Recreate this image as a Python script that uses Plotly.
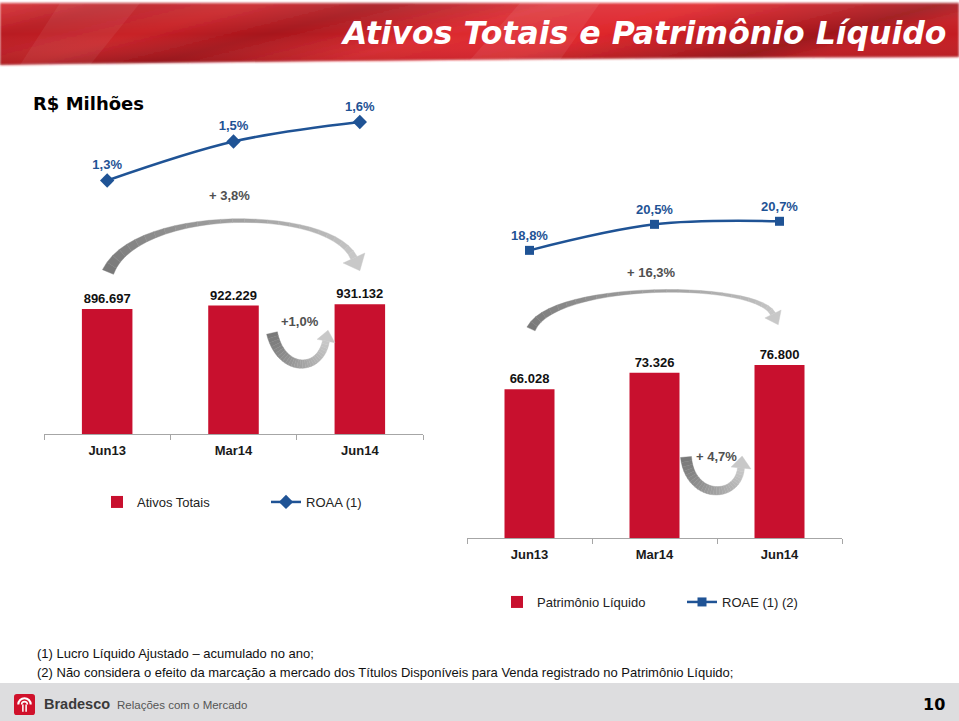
import base64
import plotly.graph_objects as go

W, H = 959, 721

# ---------------- data ----------------
categories = ["Jun13", "Mar14", "Jun14"]
ativos_totais = [896697, 922229, 931132]          # R$ milhões
roaa = [1.3, 1.5, 1.6]                            # %
patrimonio_liquido = [66028, 73326, 76800]        # R$ milhões
roae = [18.8, 20.5, 20.7]                         # %
var_ativos = ["+ 3,8%", "+1,0%"]                  # 12m, trimestre
var_pl = ["+ 16,3%", "+ 4,7%"]


def px(x):
    return x / W


def py(y):
    return 1 - y / H


def fmt_mil(v):
    return f"{v:,}".replace(",", ".")


def fmt_pct(v):
    return f"{v:.1f}%".replace(".", ",")


RED = "#C8102E"
BLUE = "#1F5395"
FONT = "Liberation Sans, Arial, sans-serif"

fig = go.Figure()

# ---- left chart: Ativos Totais + ROAA ----
fig.add_trace(go.Bar(
    x=categories, y=ativos_totais, name="Ativos Totais",
    marker=dict(color=RED, line=dict(width=0)), width=0.4,
    text=[fmt_mil(v) for v in ativos_totais], textposition="outside",
    textfont=dict(family=FONT, size=13, color="#111", weight="bold"),
    cliponaxis=False, xaxis="x", yaxis="y", legend="legend", hoverinfo="skip",
))
fig.add_trace(go.Scatter(
    x=categories, y=roaa, name="ROAA (1)", mode="lines+markers+text",
    line=dict(color=BLUE, width=2.5, shape="spline"),
    marker=dict(symbol="diamond", size=11, color=BLUE),
    text=[fmt_pct(v) for v in roaa], textposition="top center",
    textfont=dict(family=FONT, size=13, color=BLUE, weight="bold"),
    cliponaxis=False, xaxis="x", yaxis="y2", legend="legend", hoverinfo="skip",
))

# ---- right chart: Patrimônio Líquido + ROAE ----
fig.add_trace(go.Bar(
    x=categories, y=patrimonio_liquido, name="Patrimônio Líquido",
    marker=dict(color=RED, line=dict(width=0)), width=0.4,
    text=[fmt_mil(v) for v in patrimonio_liquido], textposition="outside",
    textfont=dict(family=FONT, size=13, color="#111", weight="bold"),
    cliponaxis=False, xaxis="x2", yaxis="y3", legend="legend2", hoverinfo="skip",
))
fig.add_trace(go.Scatter(
    x=categories, y=roae, name="ROAE (1) (2)", mode="lines+markers+text",
    line=dict(color=BLUE, width=2.5, shape="spline"),
    marker=dict(symbol="square", size=9, color=BLUE),
    text=[fmt_pct(v) for v in roae], textposition="top center",
    textfont=dict(family=FONT, size=13, color=BLUE, weight="bold"),
    cliponaxis=False, xaxis="x2", yaxis="y4", legend="legend2", hoverinfo="skip",
))

# pixel geometry of the two plot areas
L_X0, L_X1, L_Y0, L_Y1 = 44, 423, 434, 104
R_X0, R_X1, R_Y0, R_Y1 = 467, 842, 538, 208
L_BAR_PER_PX, L_PCT_PER_PX = 7180, 1 / 195
R_BAR_PER_PX, R_PCT_PER_PX = 444, 1 / 15.3

xax = dict(type="category", showline=True, linecolor="#A6A6A6", linewidth=1,
           ticks="outside", tickson="boundaries", ticklen=5, tickcolor="#A6A6A6",
           ticklabelstandoff=4,
           showgrid=False, zeroline=False, fixedrange=True,
           tickfont=dict(family=FONT, size=13, color="#1a1a1a", weight="bold"))
yhid = dict(visible=False, showgrid=False, zeroline=False, fixedrange=True)

fig.update_layout(
    xaxis=dict(xax, domain=[px(L_X0), px(L_X1)], anchor="y"),
    yaxis=dict(yhid, domain=[py(L_Y0), py(L_Y1)], range=[0, (L_Y0 - L_Y1) * L_BAR_PER_PX]),
    yaxis2=dict(yhid, overlaying="y", range=[0, (L_Y0 - L_Y1) * L_PCT_PER_PX]),
    xaxis2=dict(xax, domain=[px(R_X0), px(R_X1)], anchor="y3"),
    yaxis3=dict(yhid, domain=[py(R_Y0), py(R_Y1)], range=[0, (R_Y0 - R_Y1) * R_BAR_PER_PX]),
    yaxis4=dict(yhid, overlaying="y3", range=[0, (R_Y0 - R_Y1) * R_PCT_PER_PX]),
)

fig.update_layout(
    width=W, height=H, margin=dict(l=0, r=0, t=0, b=0),
    paper_bgcolor="white", plot_bgcolor="rgba(0,0,0,0)",
    showlegend=True,
    legend=dict(orientation="h", x=px(97), y=py(502), xanchor="left", yanchor="middle",
                entrywidth=124, entrywidthmode="pixels", bgcolor="rgba(0,0,0,0)",
                font=dict(family=FONT, size=13, color="#222"), traceorder="normal"),
    legend2=dict(orientation="h", x=px(497), y=py(602), xanchor="left", yanchor="middle",
                 entrywidth=140, entrywidthmode="pixels", bgcolor="rgba(0,0,0,0)",
                 font=dict(family=FONT, size=13, color="#222"), traceorder="normal"),
    bargap=0.6,
)

# ---------------- decorations ----------------
shapes = []


def bez(p, t):
    (x0, y0), (x1, y1), (x2, y2), (x3, y3) = p
    a, b, c, d = (1 - t) ** 3, 3 * (1 - t) ** 2 * t, 3 * (1 - t) * t ** 2, t ** 3
    return (a * x0 + b * x1 + c * x2 + d * x3, a * y0 + b * y1 + c * y2 + d * y3)


def dbez(p, t):
    (x0, y0), (x1, y1), (x2, y2), (x3, y3) = p
    a, b, c = 3 * (1 - t) ** 2, 6 * (1 - t) * t, 3 * t ** 2
    dx = a * (x1 - x0) + b * (x2 - x1) + c * (x3 - x2)
    dy = a * (y1 - y0) + b * (y2 - y1) + c * (y3 - y2)
    n = (dx * dx + dy * dy) ** 0.5
    return dx / n, dy / n


def path(points):
    return "M" + " L".join(f"{px(x):.5f},{py(y):.5f}" for x, y in points) + " Z"


def mix(c0, c1, t):
    return "rgb(%d,%d,%d)" % tuple(round(a + (b - a) * t) for a, b in zip(c0, c1))


def arrow(p, w0, wm, w1, head_w, head_len, c0=(120, 120, 120), c1=(200, 200, 200), n=28):
    def w(t):
        return max(2.0, w0 * (1 - t) ** 2 + 2 * wm * t * (1 - t) + w1 * t ** 2)

    for i in range(n):
        ta, tb = i / n, (i + 1) / n
        (xa, ya), (xb, yb) = bez(p, ta), bez(p, tb)
        (dxa, dya), (dxb, dyb) = dbez(p, ta), dbez(p, tb)
        wa, wb = w(ta) / 2, w(tb) / 2
        pts = [(xa - dya * wa, ya + dxa * wa), (xb - dyb * wb, yb + dxb * wb),
               (xb + dyb * wb, yb - dxb * wb), (xa + dya * wa, ya - dxa * wa)]
        col = mix(c0, c1, (ta + tb) / 2)
        shapes.append(dict(type="path", path=path(pts), xref="paper", yref="paper",
                           fillcolor=col, line=dict(color=col, width=0.4), layer="above"))
    xe, ye = bez(p, 1)
    dx, dy = dbez(p, 1)
    hw = head_w / 2
    pts = [(xe - dy * hw, ye + dx * hw), (xe + dx * head_len, ye + dy * head_len),
           (xe + dy * hw, ye - dx * hw)]
    shapes.append(dict(type="path", path=path(pts), xref="paper", yref="paper",
                       fillcolor=mix(c0, c1, 1), line=dict(color=mix(c0, c1, 1), width=0.4),
                       layer="above"))


# big arcs
arrow([(108, 272), (136, 206), (330, 206), (354, 258)], 12, -2, 7, 24, 14)
arrow([(531, 329), (553, 281), (757, 281), (773, 314)], 9, -1.5, 5.5, 18, 12)
# small U-arrows
arrow([(272, 333), (281, 373), (320, 373), (326, 341)], 11, 8, 7, 18, 11)
arrow([(686, 457), (690, 500), (738, 500), (741, 468)], 11, 8, 7, 20, 12)

# footer band
shapes.append(dict(type="rect", xref="paper", yref="paper", x0=0, x1=1, y0=0, y1=py(683),
                   fillcolor="#DDDDDF", line=dict(width=0), layer="below"))
fig.update_layout(shapes=shapes)

# header banner (image, no text)
banner_svg = """<svg xmlns='http://www.w3.org/2000/svg' width='959' height='70' viewBox='0 0 959 70'>
<defs>
<linearGradient id='g' x1='0' y1='0' x2='1' y2='0.25'>
<stop offset='0' stop-color='#d42a30'/>
<stop offset='0.12' stop-color='#b81c22'/>
<stop offset='0.25' stop-color='#c92228'/>
<stop offset='0.38' stop-color='#a6161c'/>
<stop offset='0.55' stop-color='#dc2a30'/>
<stop offset='0.7' stop-color='#e0262c'/>
<stop offset='0.85' stop-color='#b71a20'/>
<stop offset='0.93' stop-color='#9e1419'/>
<stop offset='1' stop-color='#c41d23'/>
</linearGradient>
<linearGradient id='s' x1='0' y1='0' x2='0' y2='1'>
<stop offset='0' stop-color='#ffffff' stop-opacity='0.10'/>
<stop offset='0.5' stop-color='#ffffff' stop-opacity='0'/>
<stop offset='1' stop-color='#000000' stop-opacity='0.12'/>
</linearGradient>
<filter id='b'><feGaussianBlur stdDeviation='1.2'/></filter>
</defs>
<path d='M0,3 H959 V57 Q520,58 0,65 Z' fill='url(#g)' filter='url(#b)'/>
<path d='M0,3 H959 V57 Q520,58 0,65 Z' fill='url(#s)'/>
<path d='M60,3 L140,3 L90,65 L20,65 Z' fill='#ffffff' opacity='0.06'/>
<path d='M520,3 L600,3 L560,60 L470,60 Z' fill='#ffffff' opacity='0.07'/>
</svg>"""

logo_svg = """<svg xmlns='http://www.w3.org/2000/svg' width='22' height='22' viewBox='0 0 22 22'>
<rect x='0' y='0' width='22' height='22' rx='3' fill='#D0112B'/>
<path d='M4.5,11 A6.5,6.5 0 0 1 17.5,11' fill='none' stroke='white' stroke-width='2.2'/>
<path d='M8,11 A3,3 0 0 1 14,11' fill='none' stroke='white' stroke-width='1.6'/>
<line x1='9.3' y1='11' x2='9.3' y2='18.5' stroke='white' stroke-width='1.6'/>
<line x1='12.7' y1='11' x2='12.7' y2='18.5' stroke='white' stroke-width='1.6'/>
</svg>"""


def uri(svg):
    return "data:image/svg+xml;base64," + base64.b64encode(svg.encode("utf-8")).decode()


fig.update_layout(images=[
    dict(source=uri(banner_svg), xref="paper", yref="paper", x=0, y=1, sizex=1, sizey=70 / H,
         sizing="stretch", xanchor="left", yanchor="top", layer="below"),
    dict(source=uri(logo_svg), xref="paper", yref="paper", x=px(14), y=py(694), sizex=px(21),
         sizey=21 / H, sizing="stretch", xanchor="left", yanchor="top", layer="above"),
])

# ---------------- texts ----------------
ann = []


def text(x, y, s, size, color="#222", family=FONT, weight="normal", style="normal",
         xanchor="left"):
    ann.append(dict(x=px(x), y=py(y), xref="paper", yref="paper", text=s, showarrow=False,
                    xanchor=xanchor, yanchor="middle",
                    font=dict(family=family, size=size, color=color, weight=weight, style=style)))


text(948, 33, "Ativos Totais e Patrimônio Líquido", 31.5, "white",
     "DejaVu Sans, Verdana, sans-serif", "bold", "italic", xanchor="right")
text(31, 104, "R$ Milhões", 18, "#000", "DejaVu Sans, Verdana, sans-serif", "bold")

text(229, 195, var_ativos[0], 13, "#505050", weight="bold", xanchor="center")
text(300, 321, var_ativos[1], 13, "#505050", weight="bold", xanchor="center")
text(651, 272, var_pl[0], 13, "#505050", weight="bold", xanchor="center")
text(716, 456, var_pl[1], 13, "#505050", weight="bold", xanchor="center")

text(35, 653, "(1) Lucro Líquido Ajustado – acumulado no ano;", 13, "#111")
text(35, 672, "(2) Não considera o efeito da marcação a mercado dos Títulos Disponíveis "
              "para Venda registrado no Patrimônio Líquido;", 13, "#111")

text(42, 704, "Bradesco", 14.5, "#3a3a3a", weight="bold")
text(115, 705, "Relações com o Mercado", 11.5, "#555")
text(947, 704, "10", 16, "#000", "DejaVu Sans, Verdana, sans-serif", "bold", xanchor="right")

fig.update_layout(annotations=ann)

fig.write_html("out.html", config={"displayModeBar": False},
               post_script="document.body.style.margin='0';")
